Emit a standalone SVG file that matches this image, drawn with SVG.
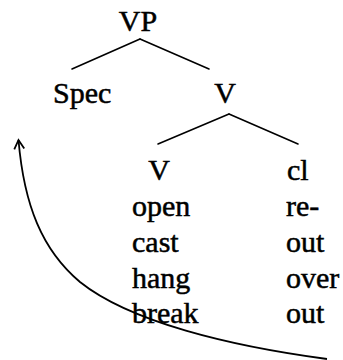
<svg xmlns="http://www.w3.org/2000/svg" width="343" height="360" viewBox="0 0 343 360">
  <style>
    .t { font-family: 'Liberation Serif', 'Times New Roman', serif; font-size: 30px; fill: #000; stroke: #000; stroke-width: 0.5; }
    .lbl { text-anchor: middle; }
    .branch { stroke: #000; stroke-width: 1.6; fill: none; stroke-linecap: round; }
    .move { stroke: #000; stroke-width: 1.8; fill: none; }
  </style>
  <defs>
    <marker id="openArrow" viewBox="0 0 12 12" refX="10" refY="6" markerWidth="12" markerHeight="12" markerUnits="userSpaceOnUse" orient="auto">
      <path d="M1,1 L10,6 L1,11" fill="none" stroke="#000" stroke-width="1.8"/>
    </marker>
  </defs>

  <rect width="343" height="360" fill="#fff"/>

  <!-- tree branches -->
  <g id="connectors">
    <path class="branch" d="M140,39 L72,69"/>
    <path class="branch" d="M140,39 L209,69"/>
    <path class="branch" d="M229,114 L158,144"/>
    <path class="branch" d="M229,114 L298,144"/>
    <!-- movement arrow from the particle position up to Spec -->
    <path class="move" d="M327,359 C230,346 130,322 80,282 C42,250 24,205 18.5,140" marker-end="url(#openArrow)"/>
  </g>

  <g id="vp"><text class="t lbl" x="138" y="31">VP</text></g>
  <g id="spec"><text class="t" x="53" y="103">Spec</text></g>
  <g id="v-bar"><text class="t lbl" x="225" y="103">V</text></g>
  <g id="v-head"><text class="t lbl" x="159" y="180">V</text></g>
  <g id="clitic"><text class="t" x="287" y="180">cl</text></g>

  <g id="verbs">
    <text class="t" x="132" y="216">open</text>
    <text class="t" x="132" y="252">cast</text>
    <text class="t" x="132" y="288">hang</text>
    <text class="t" x="132" y="323">break</text>
  </g>
  <g id="particles">
    <text class="t" x="286" y="216">re-</text>
    <text class="t" x="286" y="252">out</text>
    <text class="t" x="286" y="288">over</text>
    <text class="t" x="286" y="323">out</text>
  </g>
</svg>
